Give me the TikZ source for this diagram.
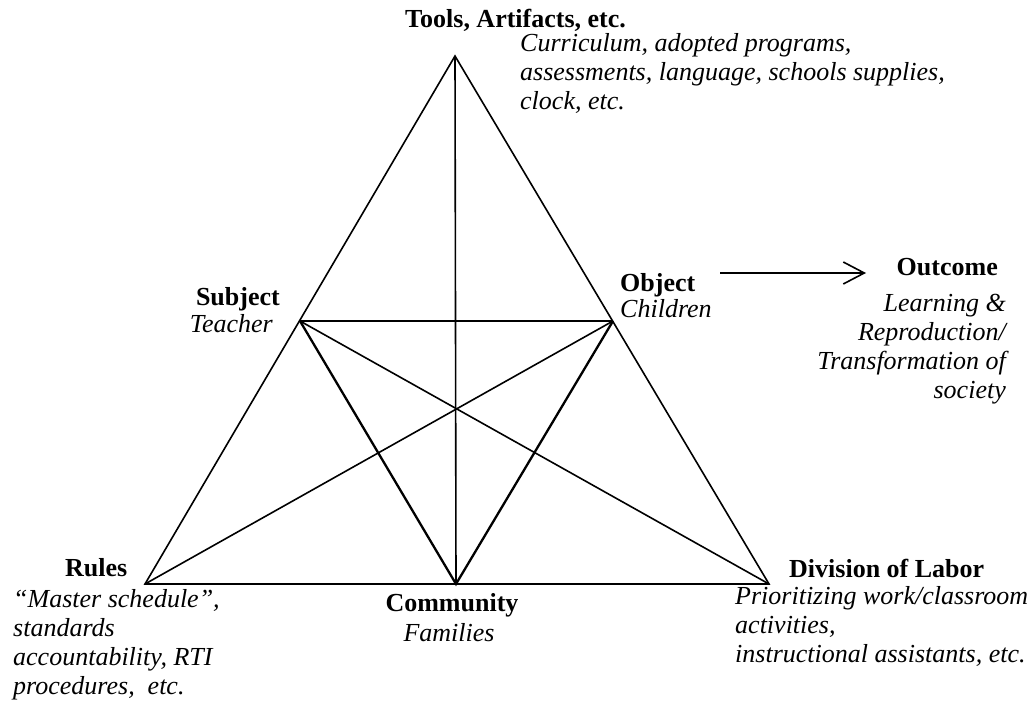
\documentclass[tikz,border=0pt]{standalone}
\usepackage{fontspec}
\setmainfont{Liberation Serif}
\usetikzlibrary{arrows.meta}
\begin{document}
\begin{tikzpicture}[x=1pt,y=-1pt,
  edge/.style={line width=1.6pt},
  heavy/.style={line width=2.3pt},
  head/.style={inner sep=0pt, font=\fontsize{26}{29}\selectfont\bfseries},
  note/.style={inner sep=0pt, font=\fontsize{26}{29}\selectfont\itshape},
]
\useasboundingbox (0,0) rectangle (1034,709);

% corners of the activity triangle and the mid-edge points
\coordinate (tools) at (455,56);
\coordinate (rules) at (145,584);
\coordinate (labor) at (769,584);
\coordinate (comm)  at (456,584);
\coordinate (subj)  at (300,321);
\coordinate (obj)   at (613,321);

% outer triangle
\draw[edge, line join=miter] (tools) -- (rules) -- (labor) -- cycle;
% inner connections
\draw[edge] (tools) -- (comm);
\draw[edge] (subj) -- (obj);
\draw[edge] (subj) -- (labor);
\draw[edge] (obj) -- (rules);
\draw[heavy, line join=miter] (subj) -- (comm) -- (obj);

% object leads to outcome
\coordinate (arrS) at (720,273);
\coordinate (arrE) at (866,273);
\draw[edge, -{Straight Barb[length=21pt,width=22pt,line width=1.6pt]}] (arrS) -- (arrE);

% tools
\node[head, anchor=base west] (toolsT) at (405,28) {Tools, Artifacts, etc.};
\node[note, anchor=base west] (toolsA) at (520,52) {Curriculum, adopted programs,};
\node[note, anchor=base west] (toolsB) at (520,81) {assessments, language, schools supplies,};
\node[note, anchor=base west] (toolsC) at (520,110) {clock, etc.};

% subject
\node[head, anchor=base east] (subjT) at (280,305) {Subject};
\node[note, anchor=base east] (subjA) at (273,332) {Teacher};

% object
\node[head, anchor=base west] (objT) at (620,291) {Object};
\node[note, anchor=base west] (objA) at (620,317) {Children};

% outcome
\node[head, anchor=base east] (outT) at (998,275) {Outcome};
\node[note, anchor=base east] (outA) at (1006,311) {Learning \&};
\node[note, anchor=base east] (outB) at (1006,340) {Reproduction/};
\node[note, anchor=base east] (outC) at (1006,369) {Transformation of};
\node[note, anchor=base east] (outD) at (1006,398) {society};

% rules
\node[head, anchor=base west] (rulesT) at (65,576) {Rules};
\node[note, anchor=base west] (rulesA) at (13,607) {``Master schedule'',};
\node[note, anchor=base west] (rulesB) at (13,636) {standards};
\node[note, anchor=base west] (rulesC) at (13,665) {accountability, RTI};
\node[note, anchor=base west] (rulesD) at (13,694) {procedures,\ \ etc.};

% community
\node[head, anchor=base] (commT) at (452,611) {Community};
\node[note, anchor=base] (commA) at (449,641) {Families};

% division of labor
\node[head, anchor=base west] (laborT) at (789,577) {Division of Labor};
\node[note, anchor=base west] (laborA) at (735,604) {Prioritizing work/classroom};
\node[note, anchor=base west] (laborB) at (735,633) {activities,};
\node[note, anchor=base west] (laborC) at (735,662) {instructional assistants, etc.};
\end{tikzpicture}
\end{document}
